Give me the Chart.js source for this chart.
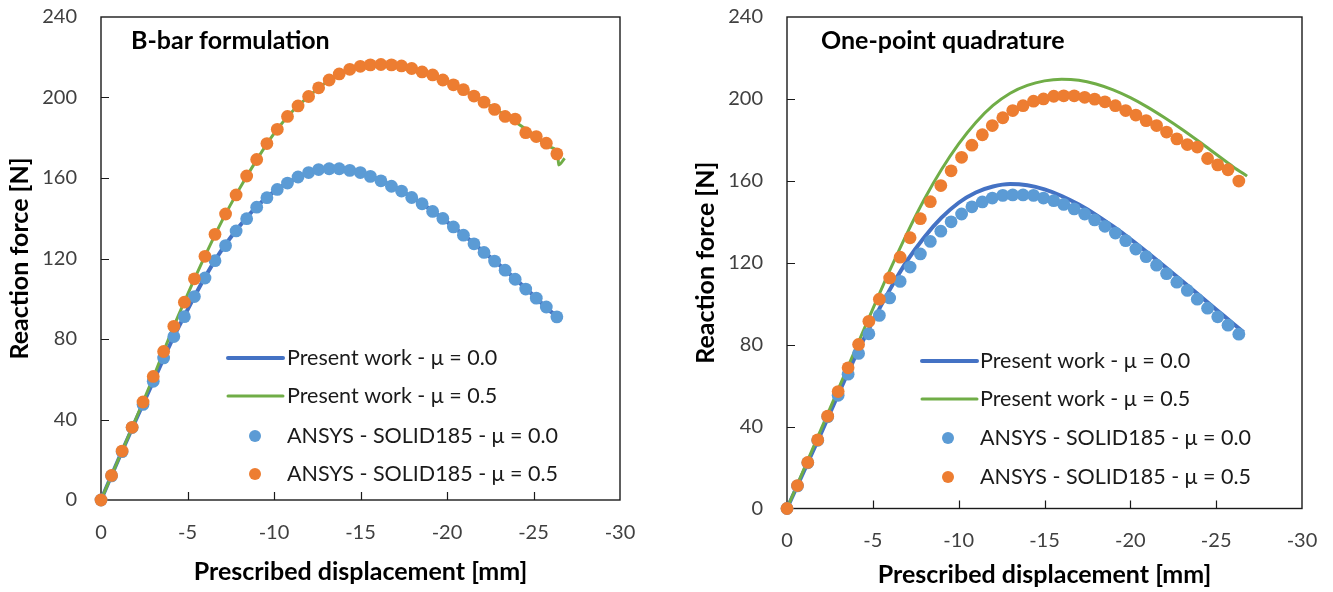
<!DOCTYPE html>
<html lang="en">
<head>
    <meta charset="UTF-8">
    <title>Reaction force vs prescribed displacement</title>
    <script src="https://cdn.jsdelivr.net/npm/chart.js"></script>
    <style>
        html, body { margin: 0; padding: 0; background: #fff; overflow: hidden; }
        .panel { position: absolute; top: 0; }
        #left { left: 0; }
        #right { left: 686px; }
    </style>
</head>
<body>
    <canvas id="left" class="panel" width="660" height="592"></canvas>
    <canvas id="right" class="panel" width="647" height="592"></canvas>

    <script>
        // ---- B-bar formulation (left) ----
        const bbarDotX = [0, -0.61, -1.22, -1.80, -2.43, -3.02, -3.62, -4.21, -4.82, -5.40, -6.01, -6.59, -7.20, -7.81, -8.42,
            -9.00, -9.59, -10.19, -10.78, -11.39, -12.00, -12.58, -13.19, -13.77, -14.38, -14.99, -15.57, -16.18, -16.79, -17.37,
            -17.96, -18.56, -19.17, -19.76, -20.37, -20.95, -21.56, -22.14, -22.75, -23.36, -23.94, -24.55, -25.16, -25.74, -26.35];
        const bbarAnsys00 = [0, 12, 24, 36, 47.5, 59, 70.6, 81.2, 91.1, 101.1, 110.3, 118.9, 126.4, 133.7, 139.8,
            145.5, 150.2, 154.3, 157.5, 160.5, 162.7, 164.2, 164.6, 164.6, 163.8, 162.7, 160.8, 158.6, 155.9, 153.5,
            150.3, 147.2, 143.4, 139.9, 135.7, 131.6, 127.3, 123, 118.7, 114.2, 109.7, 104.8, 100.3, 95.9, 91];
        const bbarAnsys05 = [0, 12.2, 24.3, 36.1, 48.7, 61.4, 73.8, 86.3, 98.3, 109.9, 121.1, 132, 142.1, 151.6, 161,
            169.2, 177.1, 184.2, 190.6, 195.8, 200.5, 204.8, 208.7, 211.7, 214, 215.5, 216.2, 216.4, 216.2, 215.7,
            214.4, 212.7, 211.2, 208.7, 206.3, 203.9, 200.7, 197.7, 194.1, 190.6, 189.3, 182.5, 180.6, 177.3, 172];
        const bbarLine00X = [0, -1, -2, -3, -4, -5, -6, -7, -8, -9, -10, -11, -12, -13, -14, -15, -16, -17, -18, -19,
            -20, -21, -22, -23, -24, -25, -26, -26.65];
        const bbarLine00 = [0, 20, 39.5, 58.5, 77.5, 94.5, 110.5, 124.5, 136, 145.8, 153.2, 158.6, 162.6, 164.5, 164.6,
            162.8, 159.4, 155.3, 150.3, 144.6, 138.2, 131.4, 124.2, 117, 109.4, 101.6, 93.6, 89.7];
        const bbarLine05X = [0, -1, -2, -3, -4, -5, -6, -7, -8, -9, -10, -11, -12, -13, -14, -15, -16, -17, -18, -19,
            -20, -21, -22, -23, -24, -25, -26, -26.4, -26.45, -26.8];
        const bbarLine05 = [0, 20, 40, 60.5, 82, 102, 121, 138.8, 154.6, 169, 182, 192.5, 200.5, 207.5, 212.2,
            215.2, 216.4, 216.2, 214.3, 211.4, 207.8, 203.6, 198.6, 193.2, 187.6, 181.6, 175.2, 172.5, 166.5, 169.8];

        // ---- One-point quadrature (right) ----
        const opqDotX = [0, -0.61, -1.21, -1.79, -2.37, -2.98, -3.56, -4.17, -4.77, -5.38, -5.98, -6.59, -7.17, -7.77, -8.35,
            -8.96, -9.56, -10.17, -10.77, -11.38, -11.96, -12.57, -13.15, -13.75, -14.36, -14.94, -15.54, -16.12, -16.73, -17.34,
            -17.92, -18.52, -19.13, -19.73, -20.32, -20.92, -21.53, -22.11, -22.71, -23.32, -23.90, -24.50, -25.09, -25.69, -26.32];
        const opqAnsys00 = [0, 11, 22.3, 33.3, 44.8, 55.3, 65.6, 75.7, 85.3, 94.3, 102.8, 110.9, 117.9, 124.3, 130.4,
            135.4, 140, 143.8, 147.3, 149.7, 151.6, 152.9, 153.1, 153.1, 152.9, 151.6, 150.3, 148.5, 146.3, 143.8,
            140.9, 137.8, 134.5, 130.8, 126.7, 123, 118.8, 114.7, 110.5, 106.5, 102.2, 97.8, 93.6, 89.5, 85.1];
        const opqAnsys05 = [0, 11.2, 22.5, 33.5, 45.1, 57.1, 68.7, 80.1, 91.4, 102.2, 112.6, 122.7, 132.2, 141.5, 149.8,
            157.7, 164.9, 171.5, 177.4, 182.5, 187, 190.8, 194.3, 196.7, 198.9, 200, 201.3, 201.5, 201.5, 200.8,
            199.9, 198.6, 196.7, 194.3, 192.1, 189.4, 187, 183.8, 180.5, 177.7, 176.5, 170.9, 167.8, 165.4, 159.9];
        const opqLine00X = [0, -1, -2, -3, -4, -5, -6, -7, -8, -9, -10, -11, -12, -13, -14, -15, -16, -17, -18, -19,
            -20, -21, -22, -23, -24, -25, -26, -26.6];
        const opqLine00 = [0, 18.5, 37, 56, 74.5, 91.5, 107, 121, 132.5, 142, 149.3, 154.3, 157.2, 158.4, 157.8,
            155.8, 152.6, 148.4, 143.4, 137.7, 131.6, 125, 118.2, 111.2, 104.2, 97.2, 90.2, 86];
        const opqLine05X = [0, -1, -2, -3, -4, -5, -6, -7, -8, -9, -10, -11, -12, -13, -14, -15, -16, -17, -18, -19,
            -20, -21, -22, -23, -24, -25, -26, -26.8];
        const opqLine05 = [0, 19.5, 39, 58.5, 78, 97.5, 116.5, 134.5, 151, 165.5, 178, 188.5, 196.8, 202.8, 206.6,
            208.8, 209.6, 209.1, 207.3, 204.4, 200.6, 196, 190.8, 185.2, 179.2, 173, 166.8, 162.3];

        const seriesLabels = ['Present work - μ = 0.0', 'Present work - μ = 0.5',
            'ANSYS - SOLID185 - μ = 0.0', 'ANSYS - SOLID185 - μ = 0.5'];
        const xTickValues = [0, -5, -10, -15, -20, -25, -30];
        const yTickValues = [0, 40, 80, 120, 160, 200, 240];

        const FONT = 'Lato, "Open Sans", sans-serif';

        const pts = (xs, ys) => xs.map((x, i) => ({ x: x, y: ys[i] }));

        // box around the plot area, with the small inward tick marks
        const framePlugin = {
            id: 'frame',
            beforeDatasetsDraw(chart) {
                const { ctx, chartArea: a, scales } = chart;
                ctx.save();
                ctx.strokeStyle = '#1a1a1a';
                ctx.lineWidth = 1.4;
                ctx.strokeRect(a.left, a.top, a.right - a.left, a.bottom - a.top);
                ctx.beginPath();
                xTickValues.slice(1, -1).forEach(v => {
                    const px = Math.round(scales.x.getPixelForValue(v)) + 0.5;
                    ctx.moveTo(px, a.bottom);
                    ctx.lineTo(px, a.bottom - 8);
                });
                yTickValues.slice(1, -1).forEach(v => {
                    const py = Math.round(scales.y.getPixelForValue(v)) + 0.5;
                    ctx.moveTo(a.left, py);
                    ctx.lineTo(a.left + 8, py);
                });
                ctx.lineWidth = 1.2;
                ctx.stroke();
                ctx.restore();
            },
            afterDraw(chart, args, opts) {
                const { ctx, chartArea: a } = chart;
                const ds = chart.data.datasets;
                ctx.save();
                // panel title
                ctx.font = 'bold 25px ' + FONT;
                ctx.fillStyle = '#000';
                ctx.textBaseline = 'middle';
                ctx.textAlign = 'left';
                ctx.fillText(opts.title, a.left + opts.titleDx, a.top + 24);

                // legend
                ctx.font = '21.5px ' + FONT;
                opts.rows.forEach((dy, i) => {
                    const d = ds[i];
                    const y = a.top + dy;
                    if (d.showLine) {
                        ctx.strokeStyle = d.borderColor;
                        ctx.lineWidth = d.borderWidth;
                        ctx.lineCap = 'round';
                        ctx.beginPath();
                        ctx.moveTo(a.left + opts.lineX0, y);
                        ctx.lineTo(a.left + opts.lineX1, y);
                        ctx.stroke();
                    } else {
                        ctx.fillStyle = d.backgroundColor;
                        ctx.beginPath();
                        ctx.arc(a.left + opts.dotX, y, 6, 0, Math.PI * 2);
                        ctx.fill();
                    }
                    ctx.fillStyle = '#1a1a1a';
                    ctx.fillText(d.label, a.left + opts.textX, y);
                });
                ctx.restore();
            }
        };

        function makeChart(id, p) {
            return new Chart(document.getElementById(id), {
                type: 'scatter',
                data: {
                    datasets: [
                        {
                            label: seriesLabels[0], data: pts(p.line00X, p.line00), showLine: true,
                            borderColor: '#4472C4', borderWidth: 4, pointRadius: 0,
                            cubicInterpolationMode: 'monotone', order: 3
                        },
                        {
                            label: seriesLabels[1], data: pts(p.line05X, p.line05), showLine: true,
                            borderColor: '#70AD47', borderWidth: 3, pointRadius: 0,
                            cubicInterpolationMode: 'monotone', order: 2
                        },
                        {
                            label: seriesLabels[2], data: pts(p.dotX, p.ansys00), showLine: false,
                            backgroundColor: '#5B9BD5', borderWidth: 0, pointRadius: 6.4, order: 1, clip: false
                        },
                        {
                            label: seriesLabels[3], data: pts(p.dotX, p.ansys05), showLine: false,
                            backgroundColor: '#ED7D31', borderWidth: 0, pointRadius: 6.4, order: 0, clip: false
                        }
                    ]
                },
                options: {
                    responsive: false,
                    animation: false,
                    events: [],
                    layout: { padding: { top: 17, right: p.padRight, bottom: 0, left: 0 } },
                    plugins: {
                        legend: { display: false },
                        tooltip: { enabled: false },
                        frame: p.frame
                    },
                    scales: {
                        x: {
                            type: 'linear', min: -30, max: 0, reverse: true,
                            grid: { display: false },
                            border: { display: false },
                            ticks: {
                                stepSize: 5, padding: p.xTickPad, color: '#404040',
                                font: { family: FONT, size: 20 }
                            },
                            title: {
                                display: true, text: 'Prescribed displacement [mm]', color: '#000',
                                font: { family: FONT, size: 25, weight: 'bold' },
                                padding: { top: 0, bottom: p.xTitlePad }
                            },
                            afterFit: s => { s.height = p.xAxisH; }
                        },
                        y: {
                            type: 'linear', min: 0, max: 240,
                            grid: { display: false },
                            border: { display: false },
                            ticks: {
                                stepSize: 40, padding: 16, color: '#404040',
                                font: { family: FONT, size: 20 }
                            },
                            title: {
                                display: true, text: 'Reaction force [N]', color: '#000',
                                font: { family: FONT, size: 25, weight: 'bold' },
                                padding: { top: 5, bottom: 0 }
                            },
                            afterFit: s => {
                                s.width = 101;
                                s.paddingTop = 0;
                                s.paddingBottom = 0;
                            }
                        }
                    }
                },
                plugins: [framePlugin]
            });
        }

        makeChart('left', {
            dotX: bbarDotX, ansys00: bbarAnsys00, ansys05: bbarAnsys05,
            line00X: bbarLine00X, line00: bbarLine00, line05X: bbarLine05X, line05: bbarLine05,
            padRight: 40, xAxisH: 92, xTickPad: 13, xTitlePad: 5,
            frame: { title: 'B-bar formulation', titleDx: 30, lineX0: 127, lineX1: 182, dotX: 154, textX: 186, rows: [341, 379, 419, 457] }
        });

        makeChart('right', {
            dotX: opqDotX, ansys00: opqAnsys00, ansys05: opqAnsys05,
            line00X: opqLine00X, line00: opqLine00, line05X: opqLine05X, line05: opqLine05,
            padRight: 31, xAxisH: 83.5, xTickPad: 12, xTitlePad: 2,
            frame: { title: 'One-point quadrature', titleDx: 34, lineX0: 135, lineX1: 190, dotX: 161, textX: 193, rows: [344, 382, 421, 460] }
        });
    </script>
</body>
</html>
